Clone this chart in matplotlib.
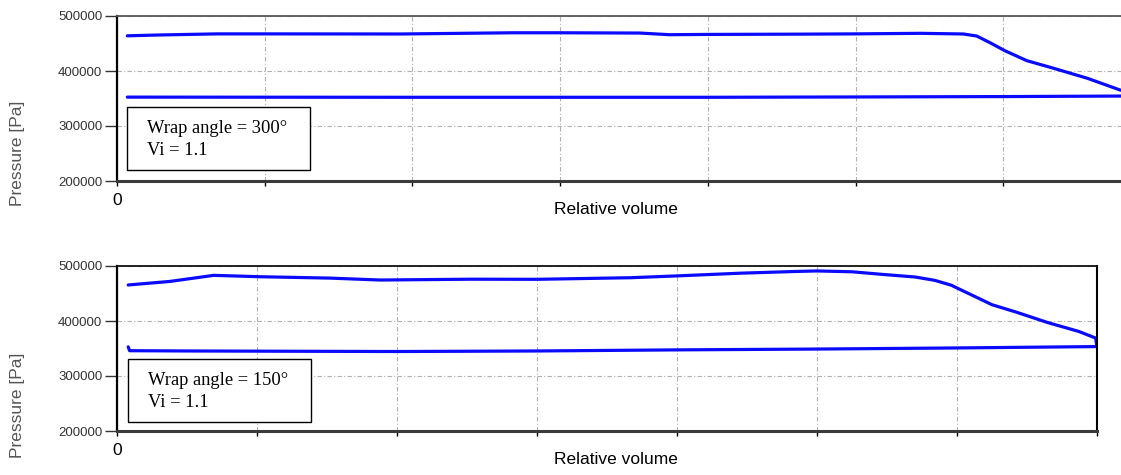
import matplotlib
matplotlib.use('Agg')
import matplotlib.pyplot as plt
from matplotlib.patches import Rectangle

# curva superior / inferior de cada diagrama (volume relativo x pressao)
x_top_hi = [0.07, 0.29, 0.68, 1.0, 1.92, 2.68, 3.0, 3.54, 3.74, 4.0, 4.62, 5.0, 5.44, 5.73,
            5.82, 5.91, 6.01, 6.16, 6.34, 6.57, 6.79, 6.85]
p_top_hi = [464000, 465500, 467500, 467500, 467300, 469500, 469500, 469000, 466000, 466500,
            467000, 467500, 468500, 467300, 463600, 451500, 437000, 418700, 405000, 386700,
            365500, 362000]
x_top_lo = [0.07, 2.0, 4.0, 5.0, 6.0, 6.85]
p_top_lo = [352500, 352200, 352200, 352800, 353500, 354500]

x_bot_hi = [0.08, 0.38, 0.69, 1.02, 1.52, 1.88, 2.53, 3.0, 3.67, 4.0, 4.46, 4.84, 5.0, 5.25,
            5.46, 5.70, 5.84, 5.96, 6.01, 6.11, 6.25, 6.42, 6.65, 6.87, 6.99, 7.0]
p_bot_hi = [465500, 472000, 483000, 480500, 478000, 474500, 476000, 475800, 478700, 482000,
            487000, 490000, 491000, 489500, 484900, 480000, 474000, 465000, 458800, 446700,
            429600, 416400, 397000, 381000, 369000, 353000]
x_bot_lo = [0.08, 0.09, 0.5, 2.0, 3.0, 4.0, 5.0, 6.0, 7.0]
p_bot_lo = [353000, 346000, 345500, 344500, 345500, 347500, 349000, 351000, 353500]

labels = ['Wrap angle = 300°\nVi = 1.1', 'Wrap angle = 150°\nVi = 1.1']

W, H = 1121, 475
fig = plt.figure(figsize=(W / 100, H / 100), dpi=100)


def px(x0, y0, x1, y1):
    # caixa em pixels -> coordenadas da figura
    return [x0 / W, 1 - y1 / H, (x1 - x0) / W, (y1 - y0) / H]


def monta_eixo(ax, right_visible):
    ax.set_xlim(0, 7)
    ax.set_ylim(200000, 500000)
    ax.set_yticks([200000, 300000, 400000, 500000])
    ax.set_yticklabels(['200000', '300000', '400000', '500000'])
    ax.set_xticks(range(8))
    ax.set_xticklabels(['0'] + [''] * 7)
    ax.tick_params(axis='y', length=8.5, width=1, pad=2, labelsize=9.5, labelcolor='#333333',
                   colors='#333333')
    ax.tick_params(axis='x', length=3.5, width=1, pad=5, labelsize=12.5, colors='black')
    for lab in ax.get_yticklabels():
        lab.set_family('Liberation Sans')
    for lab in ax.get_xticklabels():
        lab.set_family('Liberation Sans')
    ax.grid(True, color='#b0b0b0', lw=0.8, linestyle=(0, (4, 2, 1, 2)))
    ax.spines['left'].set_linewidth(1.6)
    ax.spines['left'].set_color('black')
    ax.spines['bottom'].set_linewidth(2.2)
    ax.spines['bottom'].set_color('#3a3a3a')
    ax.spines['top'].set_linewidth(1.3)
    ax.spines['top'].set_color('#555555' if not right_visible else '#111111')
    ax.spines['right'].set_linewidth(1.5)
    ax.spines['right'].set_color('black')
    ax.spines['right'].set_visible(right_visible)


ax1 = fig.add_axes(px(117, 16, 1151, 181))
ax2 = fig.add_axes(px(117, 266, 1097, 431))
monta_eixo(ax1, False)
monta_eixo(ax2, True)

cor = '#0a0aff'
for ax, xs, ys in [(ax1, x_top_hi, p_top_hi), (ax1, x_top_lo, p_top_lo),
                   (ax2, x_bot_hi, p_bot_hi), (ax2, x_bot_lo, p_bot_lo)]:
    ax.plot(xs, ys, color=cor, lw=2.3, solid_capstyle='round', solid_joinstyle='round')

# caixas de texto e rotulos
caixas = [(127, 107, 310, 170), (128, 359, 311, 422)]
for (x0, y0, x1, y1), txt in zip(caixas, labels):
    fig.patches.append(Rectangle((x0 / W, 1 - y1 / H), (x1 - x0) / W, (y1 - y0) / H,
                                 transform=fig.transFigure, fill=True, facecolor='white',
                                 edgecolor='black', lw=1.0, zorder=5))
    fig.text((x0 + 20) / W, 1 - ((y0 + y1) / 2 + 1) / H, txt, fontsize=13.3,
             family='Liberation Serif', va='center', ha='left', linespacing=1.45, zorder=6)

for yc in (153, 405):
    fig.text(18 / W, 1 - yc / H, 'Pressure [Pa]', rotation=90, ha='center', va='center',
             fontsize=12.5, color='#555555', family='Liberation Sans')
for yc in (210, 460):
    fig.text(616 / W, 1 - yc / H, 'Relative volume', ha='center', va='center',
             fontsize=12.5, color='black', family='Liberation Sans')

fig.savefig('out.png', dpi=100)
